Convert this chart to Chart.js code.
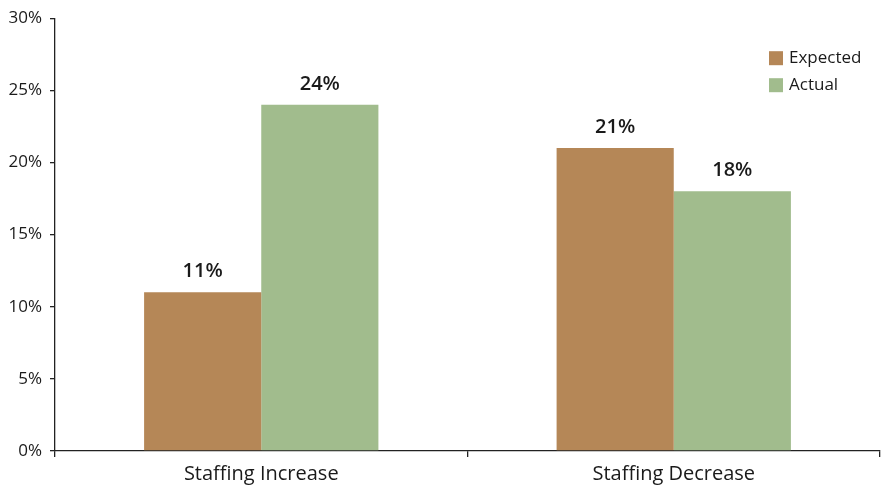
<!DOCTYPE html>
<html>
<head>
<meta charset="utf-8">
<script src="https://cdn.jsdelivr.net/npm/chart.js@4"></script>
<style>
  html, body { margin: 0; padding: 0; background: #fff; }
  #wrap { width: 882px; height: 497px; position: relative; }
</style>
</head>
<body>
<div id="wrap"><canvas id="chart"></canvas></div>
<script>
const categories = ["Staffing Increase", "Staffing Decrease"];
const expectedValues = [11, 21];
const actualValues = [24, 18];
const seriesNames = ["Expected", "Actual"];
const seriesColors = ["#b58757", "#a1bc8d"];

// draws the percentage above each bar and the legend inside the plot
const barLabels = {
  id: "barLabels",
  afterDatasetsDraw(chart) {
    const ctx = chart.ctx;
    ctx.save();
    ctx.font = "600 20px 'Open Sans'";
    ctx.fillStyle = "#1a1a1a";
    ctx.textAlign = "center";
    ctx.textBaseline = "alphabetic";
    chart.data.datasets.forEach((ds, i) => {
      chart.getDatasetMeta(i).data.forEach((bar, j) => {
        ctx.fillText(ds.data[j] + "%", bar.x, bar.y - 15);
      });
    });

    // legend
    const lx = chart.chartArea.right - 111;
    let ly = chart.chartArea.top + 40;
    ctx.font = "17px 'Open Sans'";
    ctx.textAlign = "left";
    ctx.textBaseline = "middle";
    chart.data.datasets.forEach((ds) => {
      ctx.fillStyle = ds.backgroundColor;
      ctx.fillRect(lx, ly - 7, 14, 14);
      ctx.fillStyle = "#1a1a1a";
      ctx.fillText(ds.label, lx + 20, ly);
      ly += 27;
    });
    ctx.restore();
  },
};

new Chart(document.getElementById("chart"), {
  type: "bar",
  data: {
    labels: categories,
    datasets: [
      {
        label: seriesNames[0],
        data: expectedValues,
        backgroundColor: seriesColors[0],
      },
      {
        label: seriesNames[1],
        data: actualValues,
        backgroundColor: seriesColors[1],
      },
    ],
  },
  options: {
    responsive: true,
    maintainAspectRatio: false,
    animation: false,
    datasets: { bar: { categoryPercentage: 0.568, barPercentage: 1 } },
    layout: { padding: { top: 15, right: 2, left: 0, bottom: 0 } },
    plugins: {
      legend: { display: false },
      tooltip: { enabled: false },
    },
    scales: {
      x: {
        afterFit: (scale) => { scale.height = 46; },
        grid: {
          offset: true,
          drawOnChartArea: false,
          drawTicks: true,
          tickLength: 6,
          color: "#222",
          lineWidth: 1.3,
        },
        border: { display: true, color: "#222", width: 1.3 },
        ticks: {
          color: "#1a1a1a",
          font: { family: "'Open Sans'", size: 20 },
          padding: 5,
        },
      },
      y: {
        min: 0,
        max: 30,
        afterFit: (scale) => { scale.width = 55; },
        grid: {
          drawOnChartArea: false,
          drawTicks: true,
          tickLength: 5,
          color: "#222",
          lineWidth: 1.3,
        },
        border: { display: true, color: "#222", width: 1.3 },
        ticks: {
          stepSize: 5,
          color: "#1a1a1a",
          font: { family: "'Open Sans'", size: 17 },
          padding: 8,
          callback: (v) => v + "%",
        },
      },
    },
  },
  plugins: [barLabels],
});
</script>
</body>
</html>
